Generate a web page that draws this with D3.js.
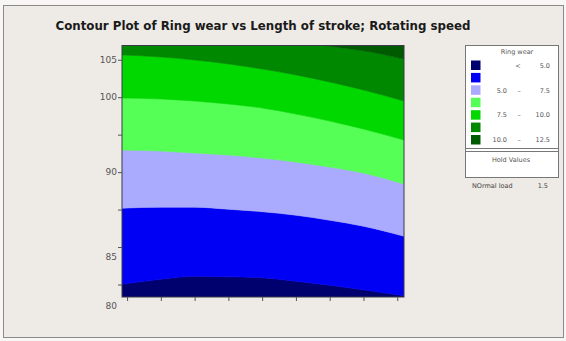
<!DOCTYPE html>
<html>
<head>
<meta charset="utf-8">
<script src="https://cdn.jsdelivr.net/npm/d3@7"></script>
<style>
  html, body { margin: 0; padding: 0; background: #f7f6f4; }
  svg { display: block; }
  text { font-family: "DejaVu Sans", Verdana, sans-serif; }
</style>
</head>
<body>
<script>
// Length of stroke grid on which the contour edges are sampled
const strokeGrid = [-0.15, 1, 2, 3, 4, 5, 6, 7, 8.2];
const xTicks = [0, 1, 2, 3, 4, 5, 6, 7, 8];

// Rotating speed axis
const yTicks = [105, 100, 95, 90, 85, 80, 75];
const yLabels = ["105", "100", "90", "85", "80"];

// Ring wear contour levels and the rotating speed where each level is crossed
const wearLevels = [5.0, 6.25, 7.5, 8.75, 10.0, 11.25];
const edge5_00  = [75.03, 75.70, 76.10, 76.03, 75.90, 75.43, 74.90, 74.29, 73.49];
const edge6_25  = [85.19, 85.32, 85.32, 85.05, 84.72, 84.25, 83.58, 82.78, 81.44];
const edge7_50  = [92.94, 92.81, 92.54, 92.27, 91.87, 91.34, 90.67, 89.87, 88.40];
const edge8_75  = [99.89, 99.76, 99.49, 99.09, 98.56, 97.75, 96.82, 95.75, 94.28];
const edge10_00 = [105.64, 105.37, 104.97, 104.44, 103.77, 102.97, 102.03, 100.96, 99.49];
const edge11_25 = [109.0, 109.0, 108.8, 108.5, 108.1, 107.5, 106.8, 106.2, 105.1];

const bandColors = ["#00006e", "#0000f5", "#aaaaff", "#55ff55", "#00d800", "#008800", "#005a00"];

// Legend
const legendTitle = "Ring wear";
const legendRows = [
  ["<", "", "5.0"],
  null,
  ["5.0", "–", "7.5"],
  null,
  ["7.5", "–", "10.0"],
  null,
  ["10.0", "–", "12.5"]
];
const holdTitle = "Hold Values";
const holdName = "NOrmal load";
const holdValue = "1.5";

const title = "Contour Plot of Ring wear vs Length of stroke; Rotating speed";

const W = 566, H = 341;
const plot = { left: 122, right: 404, top: 45.5, bottom: 297 };

const svg = d3.select("body").append("svg")
  .attr("width", W).attr("height", H);

// page background and frame
svg.append("rect").attr("x", 0).attr("y", 0).attr("width", W).attr("height", H).attr("fill", "#f7f6f4");
svg.append("rect").attr("x", 3.5).attr("y", 5.5).attr("width", W - 6).attr("height", H - 9)
  .attr("fill", "#eeeae5").attr("stroke", "#8a8a8a").attr("stroke-width", 1);

const x = d3.scaleLinear().domain([-0.15, 8.2]).range([plot.left, plot.right]);
const y = d3.scaleLinear().domain([73.33, 106.9]).range([plot.bottom, plot.top]);

// clip
svg.append("clipPath").attr("id", "plotClip")
  .append("rect")
  .attr("x", plot.left).attr("y", plot.top)
  .attr("width", plot.right - plot.left).attr("height", plot.bottom - plot.top);

const edges = [edge5_00, edge6_25, edge7_50, edge8_75, edge10_00, edge11_25];
const lowEdge = strokeGrid.map(() => 60);
const highEdge = strokeGrid.map(() => 120);
const bounds = [lowEdge, ...edges, highEdge];

const area = d3.area()
  .x((d, i) => x(strokeGrid[i]))
  .y0(d => y(d[0]))
  .y1(d => y(d[1]))
  .curve(d3.curveMonotoneX);

const gBands = svg.append("g").attr("clip-path", "url(#plotClip)");
bandColors.forEach((c, k) => {
  const lo = bounds[k], hi = bounds[k + 1];
  const pts = strokeGrid.map((_, i) => [lo[i], hi[i]]);
  gBands.append("path").datum(pts).attr("d", area).attr("fill", c)
    .attr("stroke", c).attr("stroke-width", 0.6);
});

// plot frame
svg.append("rect")
  .attr("x", plot.left).attr("y", plot.top)
  .attr("width", plot.right - plot.left).attr("height", plot.bottom - plot.top)
  .attr("fill", "none").attr("stroke", "#3a3a4a").attr("stroke-width", 1);

// y axis ticks
const yAxis = d3.axisLeft(y).tickValues(yTicks).tickSize(4).tickFormat("");
const gy = svg.append("g").attr("transform", `translate(${plot.left},0)`).call(yAxis);
gy.select(".domain").remove();
gy.selectAll("line").attr("stroke", "#555");

// y labels
const labelY = d3.scaleLinear().domain([105, 100, 90, 85, 80])
  .range([y(105), y(100), y(90), 256.7, 306]);
svg.append("g").selectAll("text").data(yLabels).join("text")
  .attr("x", 117).attr("y", d => labelY(+d))
  .attr("dy", "0.35em").attr("text-anchor", "end")
  .attr("font-size", 9).attr("fill", "#555")
  .text(d => d);

// x axis ticks
const xAxis = d3.axisBottom(x).tickValues(xTicks).tickSize(4).tickFormat("");
const gx = svg.append("g").attr("transform", `translate(0,${plot.bottom})`).call(xAxis);
gx.select(".domain").remove();
gx.selectAll("line").attr("stroke", "#555");

// title
svg.append("text")
  .attr("x", 263).attr("y", 29.5)
  .attr("text-anchor", "middle")
  .attr("font-size", 12).attr("font-weight", "bold").attr("fill", "#1a1a1a")
  .attr("textLength", 415).attr("lengthAdjust", "spacingAndGlyphs")
  .text(title);

// legend
const lg = svg.append("g");
lg.append("rect").attr("x", 465.5).attr("y", 45.5).attr("width", 93).attr("height", 132)
  .attr("fill", "#ffffff").attr("stroke", "#777").attr("stroke-width", 1);
lg.append("line").attr("x1", 465.5).attr("x2", 558.5).attr("y1", 148.5).attr("y2", 148.5).attr("stroke", "#777");
lg.append("line").attr("x1", 465.5).attr("x2", 558.5).attr("y1", 151.5).attr("y2", 151.5).attr("stroke", "#777");
lg.append("text").attr("x", 517).attr("y", 53.5).attr("text-anchor", "middle")
  .attr("font-size", 6.5).attr("fill", "#555").text(legendTitle);

const rowTop = d3.scaleLinear().domain([0, 6]).range([60.5, 135]);
lg.selectAll("rect.sw").data(bandColors).join("rect").attr("class", "sw")
  .attr("x", 471).attr("y", (d, i) => rowTop(i))
  .attr("width", 9.5).attr("height", 9.5)
  .attr("fill", d => d);

legendRows.forEach((r, i) => {
  if (!r) return;
  const cy = rowTop(i) + 5;
  lg.append("text").attr("x", 507).attr("y", cy).attr("dy", "0.35em")
    .attr("text-anchor", r[1] ? "end" : "middle")
    .attr("font-size", 6.5).attr("fill", "#555")
    .attr("transform", r[1] ? null : "translate(11,0)")
    .text(r[0]);
  if (r[1]) lg.append("text").attr("x", 519).attr("y", cy).attr("dy", "0.35em")
    .attr("text-anchor", "middle").attr("font-size", 6.5).attr("fill", "#555").text(r[1]);
  lg.append("text").attr("x", 550).attr("y", cy).attr("dy", "0.35em")
    .attr("text-anchor", "end").attr("font-size", 6.5).attr("fill", "#555").text(r[2]);
});

lg.append("text").attr("x", 511).attr("y", 160).attr("dy", "0.35em").attr("text-anchor", "middle")
  .attr("font-size", 6.5).attr("fill", "#555").text(holdTitle);
lg.append("text").attr("x", 472).attr("y", 185.5).attr("dy", "0.35em")
  .attr("font-size", 6.5).attr("fill", "#444").text(holdName);
lg.append("text").attr("x", 548).attr("y", 185.5).attr("dy", "0.35em").attr("text-anchor", "end")
  .attr("font-size", 6.5).attr("fill", "#444").text(holdValue);
</script>
</body>
</html>
